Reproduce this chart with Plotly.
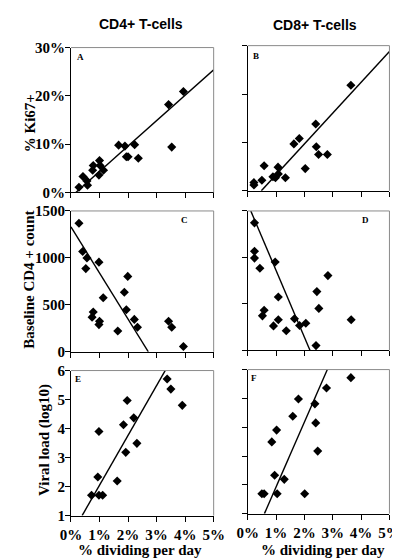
import plotly.graph_objects as go

# ---------------- data ----------------
# Panel A: CD4+ % dividing per day vs % Ki67+
a_x = [0.28, 0.42, 0.56, 0.58, 0.78, 0.76, 1.00, 1.02, 0.98, 1.14, 1.67, 1.89, 2.00, 1.94, 2.23, 2.36, 3.42, 3.53, 3.94]
a_y = [1.1, 3.3, 2.4, 1.5, 5.6, 4.6, 6.6, 5.6, 3.6, 4.6, 9.8, 9.6, 7.4, 7.4, 9.9, 7.1, 18.2, 9.4, 20.9]
a_line_x = [0.17, 5.0]
a_line_y = [0.0, 25.4]

# Panel B: CD8+
b_x = [0.22, 0.22, 0.50, 0.58, 0.89, 0.98, 1.07, 1.08, 1.33, 1.63, 1.82, 2.03, 2.40, 2.42, 2.50, 2.81, 3.64]
b_y = [1.2, 1.7, 2.2, 5.2, 2.9, 2.7, 4.9, 3.5, 2.7, 9.7, 10.8, 4.6, 13.8, 9.1, 7.5, 7.5, 21.8]
b_line_x = [0.48, 5.0]
b_line_y = [0.0, 28.8]

# Panel C: CD4+ vs baseline CD4 count
c_x = [0.28, 0.41, 0.56, 0.52, 0.98, 0.78, 0.74, 1.00, 0.98, 1.13, 1.64, 1.87, 1.99, 1.94, 2.22, 2.33, 3.42, 3.53, 3.94]
c_y = [1369, 1069, 1000, 886, 955, 424, 369, 325, 290, 576, 221, 635, 803, 448, 345, 262, 325, 262, 56]
c_line_x = [0.0, 2.71]
c_line_y = [1330, 0]

# Panel D: CD8+ vs baseline CD4 count
d_x = [0.24, 0.24, 0.24, 0.43, 0.97, 0.58, 0.52, 1.08, 1.08, 0.91, 1.36, 1.65, 1.83, 2.05, 2.44, 2.51, 2.83, 2.41, 3.65]
d_y = [1372, 1066, 993, 884, 951, 432, 372, 575, 330, 264, 212, 341, 268, 292, 633, 452, 805, 52, 330]
d_line_x = [0.11, 2.20]
d_line_y = [1500, 0]

# Panel E: CD4+ vs viral load
e_x = [0.72, 0.98, 1.11, 0.94, 0.98, 1.62, 1.92, 1.84, 1.97, 2.20, 2.31, 3.37, 3.50, 3.90]
e_y = [1.70, 1.70, 1.70, 2.33, 3.90, 2.19, 3.18, 4.13, 4.97, 4.37, 3.49, 5.71, 5.36, 4.80]
e_line_x = [0.39, 3.30]
e_line_y = [1.0, 6.0]

# Panel F: CD8+ vs viral load
f_x = [0.50, 0.58, 1.04, 2.01, 0.95, 1.29, 0.85, 1.02, 1.59, 1.79, 2.37, 2.40, 2.47, 2.78, 3.64]
f_y = [1.69, 1.69, 1.69, 1.69, 2.33, 2.19, 3.49, 3.90, 4.38, 4.98, 4.81, 4.15, 3.17, 5.36, 5.72]
f_line_x = [0.59, 2.81]
f_line_y = [1.0, 6.0]

x_ticks = [0, 1, 2, 3, 4, 5]
x_labels = ["0%", "1%", "2%", "3%", "4%", "5%"]
ki_ticks = [0, 10, 20, 30]
ki_labels = ["0%", "10%", "20%", "30%"]
cd4_ticks = [0, 500, 1000, 1500]
cd4_labels = ["0", "500", "1000", "1500"]
vl_ticks = [1, 2, 3, 4, 5, 6]
vl_labels = ["1", "2", "3", "4", "5", "6"]

panel_letters = ["A", "B", "C", "D", "E", "F"]
col_titles = ["CD4+ T-cells", "CD8+ T-cells"]
row_titles = ["% Ki67+", "Baseline CD4 + count", "Viral load (log10)"]
x_title = "% dividing per day"

# ---------------- layout ----------------
W, H = 400, 559
SERIF = "Liberation Serif, Times New Roman, serif"
SANS = "Liberation Sans, Arial, sans-serif"

def fx(px):
    return px / W

def fy(py):
    return (H - py) / H

def bold(labels):
    return [f"<b>{s}</b>" for s in labels]

# pixel boxes (left, right, top, bottom)
boxes = [
    (55, 206, 32.5, 181.7),
    (242, 392, 30.5, 180.0),
    (55, 206, 200.7, 345.7),
    (242, 392, 200.7, 344.3),
    (55, 206, 365.0, 514.3),
    (242, 392, 364.0, 512.3),
]

data = [
    (a_x, a_y, a_line_x, a_line_y, [0, 30], ki_ticks, ki_labels),
    (b_x, b_y, b_line_x, b_line_y, [0, 30], ki_ticks, ki_labels),
    (c_x, c_y, c_line_x, c_line_y, [0, 1500], cd4_ticks, cd4_labels),
    (d_x, d_y, d_line_x, d_line_y, [0, 1500], cd4_ticks, cd4_labels),
    (e_x, e_y, e_line_x, e_line_y, [1, 6], vl_ticks, vl_labels),
    (f_x, f_y, f_line_x, f_line_y, [1, 6], vl_ticks, vl_labels),
]

fig = go.Figure()
layout = {}
shapes = []
annotations = []

tickfont = dict(family=SERIF, size=15, color="black")

for i, (box, d) in enumerate(zip(boxes, data)):
    n = i + 1
    xs, ys, lx, ly, yr, yt, yl = d
    xa = "x" if n == 1 else f"x{n}"
    ya = "y" if n == 1 else f"y{n}"
    fig.add_trace(go.Scatter(
        x=xs, y=ys, mode="markers", xaxis=xa, yaxis=ya,
        marker=dict(symbol="diamond", size=7, color="black"),
        showlegend=False, cliponaxis=False,
    ))
    fig.add_trace(go.Scatter(
        x=lx, y=ly, mode="lines", xaxis=xa, yaxis=ya,
        line=dict(color="black", width=1.4),
        showlegend=False,
    ))
    l, r, t, b = box
    left_col = (i % 2 == 0)
    bottom_row = (i >= 4)
    layout["xaxis" if n == 1 else f"xaxis{n}"] = dict(
        domain=[fx(l), fx(r)], anchor=ya, range=[0, 5],
        tickvals=x_ticks, ticktext=bold(x_labels), showticklabels=bottom_row,
        ticks="outside", ticklen=5, tickcolor="black", tickwidth=1,
        showline=True, linecolor="black", linewidth=1,
        showgrid=False, zeroline=False, tickfont=tickfont, fixedrange=True,
    )
    layout["yaxis" if n == 1 else f"yaxis{n}"] = dict(
        domain=[fy(b), fy(t)], anchor=xa, range=yr,
        tickvals=yt, ticktext=bold(yl), showticklabels=left_col,
        ticks="outside", ticklen=5, tickcolor="black", tickwidth=1,
        ticklabelstandoff=-3,
        showline=True, linecolor="black", linewidth=1,
        showgrid=False, zeroline=False, tickfont=tickfont, fixedrange=True,
    )
    # gray top and right border
    shapes.append(dict(type="line", xref="paper", yref="paper",
                       x0=fx(l), x1=fx(r), y0=fy(t), y1=fy(t),
                       line=dict(color="#8a8a8a", width=1)))
    shapes.append(dict(type="line", xref="paper", yref="paper",
                       x0=fx(r), x1=fx(r), y0=fy(t), y1=fy(b),
                       line=dict(color="#8a8a8a", width=1)))

# panel letters
letter_pos = [(65, 42), (250.7, 41), (175, 210), (366.7, 210), (62.7, 374), (248.3, 373)]
for letter, (px, py) in zip(panel_letters, letter_pos):
    annotations.append(dict(
        text=f"<b>{letter}</b>", x=fx(px), y=fy(py), xref="paper", yref="paper",
        showarrow=False, xanchor="center", yanchor="middle",
        font=dict(family=SERIF, size=9, color="black"),
    ))

# column titles
for t, (px, py) in zip(col_titles, [(129.5, 8.5), (313, 9.5)]):
    annotations.append(dict(
        text=f"<b>{t}</b>", x=fx(px), y=fy(py), xref="paper", yref="paper",
        showarrow=False, xanchor="center", yanchor="middle",
        font=dict(family=SANS, size=14, color="black"),
    ))

# row (y-axis) titles
for t, (px, py) in zip(row_titles, [(11, 110), (11, 271), (27, 437)]):
    annotations.append(dict(
        text=f"<b>{t}</b>", x=fx(px), y=fy(py), xref="paper", yref="paper",
        showarrow=False, xanchor="center", yanchor="middle", textangle=-90,
        font=dict(family=SERIF, size=15, color="black"),
    ))

# x titles
for px in [128, 321.5]:
    annotations.append(dict(
        text=f"<b>{x_title}</b>", x=fx(px), y=fy(550), xref="paper", yref="paper",
        showarrow=False, xanchor="center", yanchor="middle",
        font=dict(family=SERIF, size=15, color="black"),
    ))

fig.update_layout(
    width=W, height=H,
    margin=dict(l=0, r=0, t=0, b=0),
    paper_bgcolor="white", plot_bgcolor="white",
    shapes=shapes, annotations=annotations,
    showlegend=False,
    **layout,
)

fig.write_html("out.html")
